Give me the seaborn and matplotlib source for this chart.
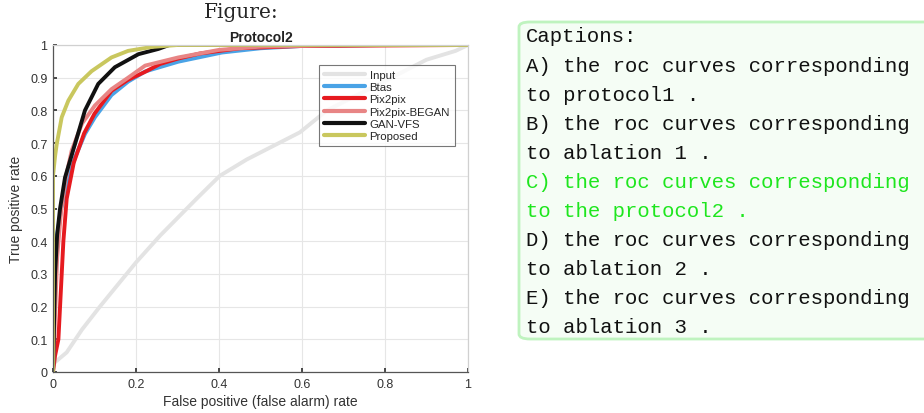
import matplotlib
matplotlib.use("Agg")
import matplotlib.pyplot as plt
from matplotlib.patches import FancyBboxPatch
import pandas as pd
import seaborn as sns

# ROC curves (false positive rate, true positive rate)
input_fpr = [0, 0.005, 0.033, 0.07, 0.113, 0.2, 0.258, 0.346, 0.402, 0.467, 0.595, 0.66, 0.8, 0.9, 0.97, 1.0]
input_tpr = [0.02, 0.03, 0.06, 0.13, 0.2, 0.335, 0.417, 0.53, 0.60, 0.65, 0.733, 0.80, 0.89, 0.955, 0.982, 1.0]

btas_fpr = [0, 0.003, 0.01, 0.02, 0.035, 0.053, 0.077, 0.101, 0.141, 0.181, 0.222, 0.302, 0.407, 0.5, 0.6, 0.8, 1.0]
btas_tpr = [0, 0.25, 0.42, 0.5, 0.58, 0.656, 0.728, 0.779, 0.847, 0.888, 0.919, 0.949, 0.977, 0.99, 0.997, 1, 1]

pix_fpr = [0, 0.005, 0.013, 0.025, 0.033, 0.05, 0.075, 0.1, 0.141, 0.18, 0.222, 0.258, 0.3, 0.354, 0.45, 0.6, 1.0]
pix_tpr = [0, 0.05, 0.10, 0.40, 0.53, 0.64, 0.73, 0.79, 0.86, 0.893, 0.918, 0.942, 0.958, 0.974, 0.99, 0.997, 1]

began_fpr = [0, 0.01, 0.02, 0.03, 0.045, 0.07, 0.101, 0.141, 0.181, 0.222, 0.302, 0.4, 0.5, 0.7, 1.0]
began_tpr = [0, 0.35, 0.5, 0.59, 0.677, 0.76, 0.815, 0.865, 0.90, 0.937, 0.962, 0.985, 0.995, 1, 1]

vfs_fpr = [0, 0.005, 0.01, 0.017, 0.029, 0.053, 0.077, 0.109, 0.149, 0.206, 0.254, 0.28, 1.0]
vfs_tpr = [0, 0.3, 0.42, 0.5, 0.595, 0.697, 0.80, 0.881, 0.932, 0.972, 0.988, 1, 1]

prop_fpr = [0, 0, 0.005, 0.009, 0.021, 0.037, 0.061, 0.093, 0.141, 0.181, 0.238, 0.3, 1.0]
prop_tpr = [0, 0.6, 0.66, 0.697, 0.779, 0.83, 0.881, 0.92, 0.962, 0.982, 0.994, 1, 1]

methods = ["Input", "Btas", "Pix2pix", "Pix2pix-BEGAN", "GAN-VFS", "Proposed"]
colors = ["#e3e3e3", "#4aa3e6", "#e61a1f", "#e88585", "#111111", "#c9c75e"]

captions = [
    "Captions:",
    "A) the roc curves corresponding",
    "to protocol1 .",
    "B) the roc curves corresponding",
    "to ablation 1 .",
    "C) the roc curves corresponding",
    "to the protocol2 .",
    "D) the roc curves corresponding",
    "to ablation 2 .",
    "E) the roc curves corresponding",
    "to ablation 3 .",
]
highlight = [5, 6]

curves = [
    (input_fpr, input_tpr), (btas_fpr, btas_tpr), (pix_fpr, pix_tpr),
    (began_fpr, began_tpr), (vfs_fpr, vfs_tpr), (prop_fpr, prop_tpr),
]
frames = []
for name, (fx, fy) in zip(methods, curves):
    frames.append(pd.DataFrame({"fpr": fx, "tpr": fy, "method": name}))
df = pd.concat(frames, ignore_index=True)

sns.set_theme(style="whitegrid")
plt.rcParams["font.family"] = ["Liberation Sans", "DejaVu Sans"]

W, H = 924, 414
fig = plt.figure(figsize=(W / 100, H / 100), dpi=100)
ax = fig.add_axes([53 / W, 1 - 373 / H, 415 / W, 327 / H])

sns.lineplot(data=df, x="fpr", y="tpr", hue="method", hue_order=methods,
             palette=dict(zip(methods, colors)), sort=False, estimator=None,
             units="method", linewidth=2.8, ax=ax, legend=True)

ax.set_xlim(0, 1)
ax.set_ylim(0, 1)
ax.set_xticks([0, 0.2, 0.4, 0.6, 0.8, 1])
ax.set_xticklabels(["0", "0.2", "0.4", "0.6", "0.8", "1"])
ax.set_yticks([i / 10 for i in range(11)])
ax.set_yticklabels(["0"] + [f"{i / 10:g}" for i in range(1, 10)] + ["1"])
ax.tick_params(axis="both", labelsize=9, colors="#333333", length=3, direction="in", pad=4)
ax.tick_params(axis="both", which="both", bottom=True, left=True)
ax.grid(True, color="#e6e6e6", linewidth=0.8)
for side, sp in ax.spines.items():
    sp.set_color("#555555" if side in ("left", "bottom") else "#d0d0d0")
    sp.set_linewidth(0.9)
ax.set_xlabel("False positive (false alarm) rate", fontsize=10, color="#333333", labelpad=3)
ax.set_ylabel("True positive rate", fontsize=10, color="#333333", labelpad=5)
ax.set_title("Protocol2", fontsize=10, fontweight="bold", color="#222222", pad=3)

leg = ax.legend(loc="upper left", bbox_to_anchor=(0.627, 0.957), fontsize=8.2,
                frameon=True, fancybox=False, edgecolor="#555555",
                handlelength=3.6, handletextpad=0.4, borderpad=0.45, labelspacing=0.2)
leg.get_frame().set_linewidth(0.8)
for line in leg.get_lines():
    line.set_linewidth(3)

fig.text(241 / W, 1 - 12 / H, "Figure:", ha="center", va="center",
         fontsize=14.5, family="DejaVu Serif")

# caption panel on the right
box = FancyBboxPatch((519 / W, 1 - 340 / H), 420 / W, 317 / H,
                     boxstyle="round,pad=0,rounding_size=0.012",
                     transform=fig.transFigure, facecolor="#f5fdf5",
                     edgecolor="#bff3bf", linewidth=2, clip_on=False)
fig.patches.append(box)
for i, line in enumerate(captions):
    fig.text(526 / W, 1 - (37 + 29.1 * i) / H, line, ha="left", va="center",
             fontsize=14.9, family="Liberation Mono",
             color="#1ee61e" if i in highlight else "#111111")

fig.savefig("out.png", dpi=100)
